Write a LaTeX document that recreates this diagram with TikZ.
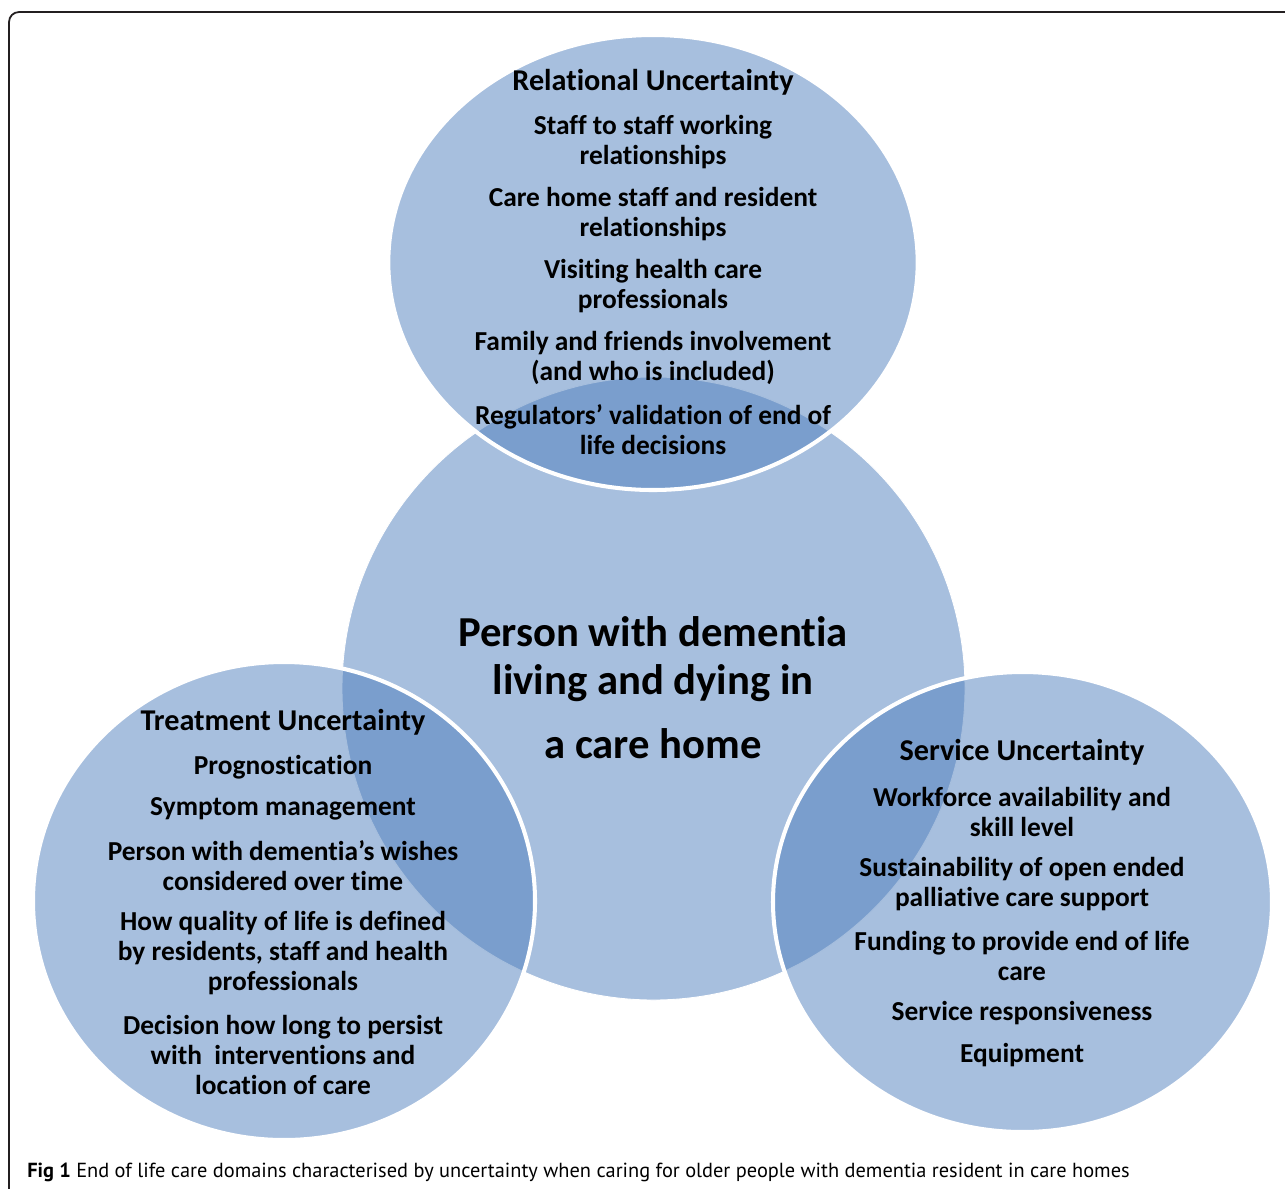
\documentclass[tikz,border=0pt]{standalone}
\usepackage{fontspec}
\setmainfont{Carlito}[Ligatures=NoCommon]
\newfontfamily\capfont{PT Sans}
\usetikzlibrary{shapes.geometric, positioning}
\definecolor{paleblue}{RGB}{167,191,222}
\definecolor{midblue}{RGB}{79,127,189}
\definecolor{framegray}{RGB}{35,31,32}

\begin{document}
\begin{tikzpicture}[x=0.02cm, y=-0.02cm]
  \tikzstyle{core}=[circle, fill=paleblue, draw=white, line width=0.5pt, minimum size=623*0.02cm, inner sep=0pt]
  \tikzstyle{bubble}=[ellipse, fill=midblue, fill opacity=0.5, draw=white, draw opacity=1, line width=2.3pt, inner sep=0pt]
  \tikzstyle{heading}=[font=\fontsize{17.2}{20}\selectfont\bfseries, align=center, inner sep=0pt]
  \tikzstyle{item}=[font=\fontsize{15.6}{17.1}\selectfont\bfseries, align=center, inner sep=0pt]
  \tikzstyle{centretext}=[font=\fontsize{24.3}{27}\selectfont\bfseries, align=center, inner sep=0pt]

  \useasboundingbox (0,0) rectangle (1285,1188);
  \clip (0,0) rectangle (1285,1188);

  % frame
  \draw[framegray, line width=1pt, rounded corners=5.7pt] (9,1260) -- (9,12) -- (1350,12);

  % circles
  \node[core] (person) at (653.5,688.5) {};
  \node[bubble, minimum width=529.4*0.02cm, minimum height=455*0.02cm] (relational) at (653,262.5) {};
  \node[bubble, minimum width=502*0.02cm, minimum height=478*0.02cm] (treatment) at (284,901) {};
  \node[bubble, minimum width=499*0.02cm, minimum height=460*0.02cm] (service) at (1022.5,902) {};

  % relational
  \node[heading] (rel-title) at (653,82) {Relational Uncertainty};
  \node[item] (rel-a) at (653,142) {Staff to staff working\\relationships};
  \node[item] (rel-b) at (653,214) {Care home staff and resident\\relationships};
  \node[item] (rel-c) at (653,286) {Visiting health care\\professionals};
  \node[item] (rel-d) at (653,358) {Family and friends involvement\\(and who is included)};
  \node[item] (rel-e) at (653,430) {Regulators’ validation of end of\\life decisions};

  % centre
  \node[centretext] (person-text) at (653,688) {Person with dementia\\living and dying in\\[9.7pt]a care home};

  % treatment
  \node[heading] (treat-title) at (283,722) {Treatment Uncertainty};
  \node[item] (treat-a) at (283,767) {Prognostication};
  \node[item] (treat-b) at (283,809) {Symptom management};
  \node[item] (treat-c) at (283,866) {Person with dementia’s wishes\\considered over time};
  \node[item] (treat-d) at (283,953) {How quality of life is defined\\by residents, staff and health\\professionals};
  \node[item] (treat-e) at (283,1055) {Decision how long to persist\\with\ \ interventions and\\location of care};

  % service
  \node[heading] (serv-title) at (1022,752) {Service Uncertainty};
  \node[item] (serv-a) at (1022,812) {Workforce availability and\\skill level};
  \node[item] (serv-b) at (1022,884) {Sustainability of open ended\\palliative care support};
  \node[item] (serv-c) at (1022,956) {Funding to provide end of life\\care};
  \node[item] (serv-d) at (1022,1013) {Service responsiveness};
  \node[item] (serv-e) at (1022,1055) {Equipment};

  % caption
  \node[anchor=base west, inner sep=0pt, font=\capfont\fontsize{11.6}{13}\selectfont] (caption) at (27,1177)
    {\textbf{Fig 1} End of life care domains characterised by uncertainty when caring for older people with dementia resident in care homes};
\end{tikzpicture}
\end{document}
